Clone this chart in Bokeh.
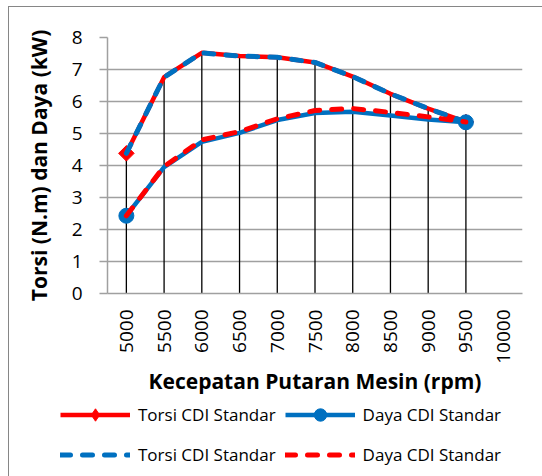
import math
from bokeh.plotting import figure
from bokeh.layouts import column, row
from bokeh.models import ColumnDataSource, FixedTicker, Legend, LegendItem, Range1d
from bokeh.embed import file_html
from bokeh.resources import INLINE

# ---- data ----
rpm_labels = ["5000", "5500", "6000", "6500", "7000", "7500", "8000", "8500", "9000", "9500", "10000"]
torsi_solid = [4.38, 6.76, 7.52, 7.42, 7.38, 7.22, 6.78, 6.24, 5.78, 5.36]
daya_solid = [2.43, 3.95, 4.74, 5.02, 5.42, 5.64, 5.68, 5.56, 5.44, 5.35]
torsi_dash = [4.38, 6.76, 7.52, 7.42, 7.38, 7.22, 6.78, 6.24, 5.78, 5.36]
daya_dash = [2.43, 3.97, 4.80, 5.06, 5.46, 5.72, 5.78, 5.66, 5.52, 5.36]
y_ticks = [0, 1, 2, 3, 4, 5, 6, 7, 8]
legend_labels = ["Torsi CDI Standar", "Daya CDI Standar", "Torsi CDI Standar", "Daya CDI Standar"]

RED = "#FF0000"
BLUE = "#0070C0"
GRID = "#A0A0A0"
FONT = "Open Sans"

xs = list(range(len(torsi_solid)))
src = ColumnDataSource(dict(
    x=xs, torsi_s=torsi_solid, daya_s=daya_solid, torsi_d=torsi_dash, daya_d=daya_dash,
    top=[max(a, b, c, d) for a, b, c, d in zip(torsi_solid, daya_solid, torsi_dash, daya_dash)],
    zero=[0] * len(xs),
))
ends = [0, len(xs) - 1]
src_t_end = ColumnDataSource(dict(x=[xs[i] for i in ends], y=[torsi_solid[i] for i in ends]))
src_d_end = ColumnDataSource(dict(x=[xs[i] for i in ends], y=[daya_solid[i] for i in ends]))

p = figure(width=533, height=390, output_backend="svg", toolbar_location=None,
           x_range=(-0.5, len(rpm_labels) - 0.5), y_range=(0, 8),
           min_border_left=98, min_border_right=20, min_border_top=30, min_border_bottom=102)
p.outline_line_color = None
p.background_fill_color = "white"
p.border_fill_color = "white"

# axes
p.xaxis.ticker = FixedTicker(ticks=list(range(len(rpm_labels))))
p.xaxis.major_label_overrides = {i: s for i, s in enumerate(rpm_labels)}
p.xaxis.major_label_orientation = math.pi / 2
p.xaxis.major_tick_out = 0
p.xaxis.major_tick_in = 0
p.xaxis.minor_tick_line_color = None
p.xaxis.axis_line_color = GRID
p.xaxis.axis_line_width = 1.5
p.xaxis.major_label_standoff = 16
p.xaxis.major_label_text_font = FONT
p.xaxis.major_label_text_font_size = "19px"
p.xaxis.major_label_text_color = "black"
p.xaxis.axis_label = "Kecepatan Putaran Mesin (rpm)"
p.xaxis.axis_label_text_font = FONT
p.xaxis.axis_label_text_font_style = "bold"
p.xaxis.axis_label_text_font_size = "21px"
p.xaxis.axis_label_text_color = "black"
p.xaxis.axis_label_standoff = 0

p.yaxis.ticker = FixedTicker(ticks=y_ticks)
p.yaxis.major_tick_out = 8
p.yaxis.major_tick_in = 0
p.yaxis.major_tick_line_color = GRID
p.yaxis.major_tick_line_width = 1.5
p.yaxis.minor_tick_line_color = None
p.yaxis.axis_line_color = GRID
p.yaxis.axis_line_width = 1.5
p.yaxis.major_label_standoff = 17
p.yaxis.major_label_text_font = FONT
p.yaxis.major_label_text_font_size = "19px"
p.yaxis.major_label_text_color = "black"
p.yaxis.axis_label = "Torsi (N.m) dan Daya (kW)"
p.yaxis.axis_label_text_font = FONT
p.yaxis.axis_label_text_font_style = "bold"
p.yaxis.axis_label_text_font_size = "21px"
p.yaxis.axis_label_text_color = "black"
p.yaxis.axis_label_standoff = 16

p.xgrid.grid_line_color = None
p.ygrid.ticker = FixedTicker(ticks=y_ticks)
p.ygrid.grid_line_color = GRID
p.ygrid.grid_line_width = 1.5

# drop lines
p.segment(x0="x", y0="zero", x1="x", y1="top", source=src, line_color="black", line_width=1.3)

# series
p.line("x", "torsi_s", source=src, line_color=RED, line_width=4.5, line_join="round")
p.scatter("x", "y", source=src_t_end, marker="square", angle=math.pi / 4, size=11,
          fill_color=RED, line_color=RED)
p.line("x", "daya_s", source=src, line_color=BLUE, line_width=4.5, line_join="round")
p.scatter("x", "y", source=src_d_end, marker="circle", size=15, fill_color=BLUE, line_color=BLUE)
p.line("x", "torsi_d", source=src, line_color=BLUE, line_width=5, line_dash="10 12", line_cap="round")
p.line("x", "daya_d", source=src, line_color=RED, line_width=5, line_dash="10 12", line_cap="round")

# ---- legend strip (separate panel so the legend is not clipped by the plot frame) ----
lg = figure(width=533, height=79, output_backend="svg", toolbar_location=None,
            x_range=Range1d(0, 1), y_range=Range1d(0, 1),
            min_border_left=0, min_border_right=0, min_border_top=0, min_border_bottom=0)
lg.axis.visible = False
lg.grid.visible = False
lg.outline_line_color = None
lg.background_fill_color = "white"
lg.border_fill_color = "white"
# legend-only stand-in renderers, placed outside the visible range
dummy = dict(x=[-5, -4], y=[-5, -5])
l1 = lg.line("x", "y", source=ColumnDataSource(dummy), line_color=RED, line_width=4.5)
m1 = lg.scatter("x", "y", source=ColumnDataSource(dummy), marker="diamond", size=17,
                fill_color=RED, line_color=RED)
l2 = lg.line("x", "y", source=ColumnDataSource(dummy), line_color=BLUE, line_width=4.5)
m2 = lg.scatter("x", "y", source=ColumnDataSource(dummy), marker="circle", size=15,
                fill_color=BLUE, line_color=BLUE)
l3 = lg.line("x", "y", source=ColumnDataSource(dummy), line_color=BLUE, line_width=5,
             line_dash="10 12", line_cap="round")
l4 = lg.line("x", "y", source=ColumnDataSource(dummy), line_color=RED, line_width=5,
             line_dash="10 12", line_cap="round")

legend = Legend(items=[
    LegendItem(label=legend_labels[0], renderers=[l1, m1]),
    LegendItem(label=legend_labels[1], renderers=[l2, m2]),
    LegendItem(label=legend_labels[2], renderers=[l3]),
    LegendItem(label=legend_labels[3], renderers=[l4]),
], location=(51, 6), orientation="horizontal", ncols=2)
legend.glyph_width = 70
legend.glyph_height = 31
legend.label_height = 31
legend.label_standoff = 8
legend.spacing = 9
legend.padding = 0
legend.margin = 0
legend.border_line_alpha = 0
legend.background_fill_alpha = 0
legend.label_text_font = FONT
legend.label_text_font_size = "17px"
legend.label_text_color = "black"
lg.add_layout(legend, "center")

layout = column(p, row(lg), spacing=0,
                styles={"margin-left": "8px", "margin-top": "6px",
                        "border-left": "1px solid #868686", "border-top": "1px solid #868686"})

open("out.html", "w").write(file_html(layout, INLINE))
